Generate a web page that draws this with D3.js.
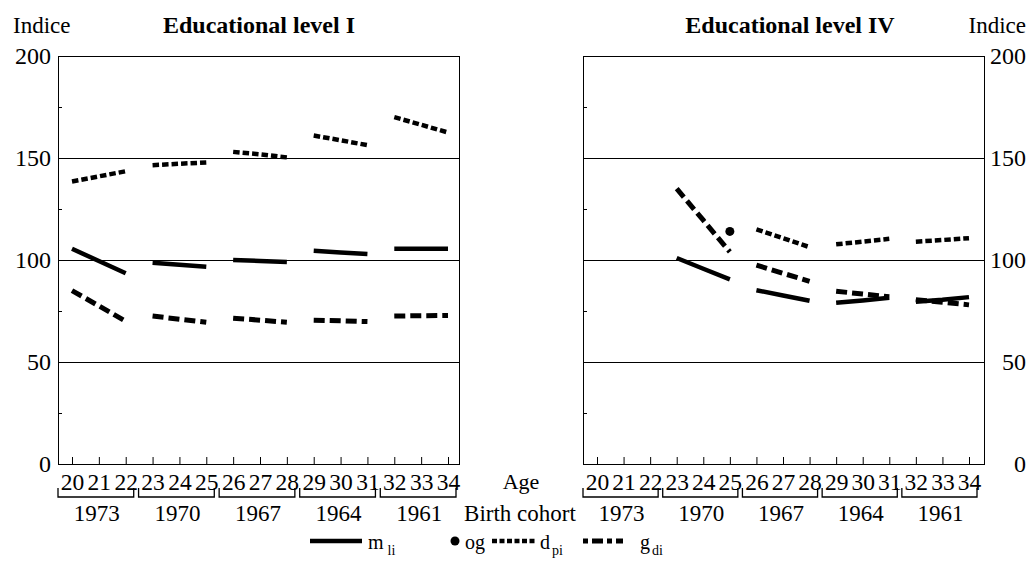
<!doctype html>
<html>
<head>
    <meta charset="utf-8">
    <title>Educational level indices</title>
    <style>
        body { margin: 0; padding: 0; background: #fff; }
        svg text { font-family: "Liberation Serif", "DejaVu Serif", serif; fill: #000; }
    </style>
</head>
<body>
    <svg id="chart" width="1028" height="572"></svg>

    <script src="https://d3js.org/d3.v7.min.js"></script>
    <script>
        // ages on the x axis and the birth cohort each group of three belongs to
        var ages = [20, 21, 22, 23, 24, 25, 26, 27, 28, 29, 30, 31, 32, 33, 34];
        var cohorts = ["1973", "1970", "1967", "1964", "1961"];
        var yTicks = [0, 50, 100, 150, 200];
        var yMinor = [25, 75, 125, 175];
        var gridValues = [50, 100, 150];

        // Educational level I
        var levelI_mli = [105.5, 99.5, 93.5, 98.7, 97.7, 96.7, 100, 99.5, 99, 104.5, 103.7, 103, 105.5, 105.5, 105.5];
        var levelI_dpi = [138.5, 141, 143.5, 146.5, 147.2, 147.8, 153, 151.8, 150.3, 161, 158.7, 156.3, 170, 166.3, 162.5];
        var levelI_gdi = [85, 77.5, 70, 72.5, 71, 69.5, 71.5, 70.5, 69.5, 70.5, 70.2, 69.8, 72.5, 72.7, 72.8];
        var levelI_og = [null, null, null, null, null, null, null, null, null, null, null, null, null, null, null];

        // Educational level IV
        var levelIV_mli = [null, null, null, 101, 95.7, 90.5, 85.2, 82.6, 80, 79, 80.2, 81.5, 79.5, 80.5, 81.8];
        var levelIV_dpi = [null, null, null, null, null, null, 115, 110.7, 106.3, 107.7, 109, 110.4, 109, 109.8, 110.7];
        var levelIV_gdi = [null, null, null, 135, 119.5, 104, 97.5, 93.5, 89.5, 84.7, 83.3, 82, 80.5, 79.3, 78];
        var levelIV_og = [null, null, null, null, null, 114, null, null, null, null, null, null, null, null, null];

        var svg = d3.select("#chart");

        var y = d3.scaleLinear().domain([0, 200]).range([464, 56]);

        var panels = [
            {title: "Educational level I", left: 58, right: 459, x0: 72, x1: 448, titleX: 259, side: "left",
             mli: levelI_mli, dpi: levelI_dpi, gdi: levelI_gdi, og: levelI_og},
            {title: "Educational level IV", left: 583, right: 984, x0: 597, x1: 969, titleX: 790, side: "right",
             mli: levelIV_mli, dpi: levelIV_dpi, gdi: levelIV_gdi, og: levelIV_og}
        ];

        var styles = {
            mli: {width: 4.5, dash: null},
            dpi: {width: 4.5, dash: "6.5,3"},
            gdi: {width: 5, dash: "11,5"}
        };

        panels.forEach(function(p) {
            var x = d3.scaleLinear().domain([20, 34]).range([p.x0, p.x1]);
            var g = svg.append("g");

            // grid lines
            g.selectAll(".grid")
                .data(gridValues)
                .enter().append("line")
                .attr("x1", p.left).attr("x2", p.right)
                .attr("y1", function(d) { return Math.round(y(d)) + 0.5; })
                .attr("y2", function(d) { return Math.round(y(d)) + 0.5; })
                .attr("stroke", "#000").attr("stroke-width", 1)
                .attr("shape-rendering", "crispEdges");

            // frame
            g.append("rect")
                .attr("x", p.left + 0.5).attr("y", y(200) + 0.5)
                .attr("width", p.right - p.left).attr("height", y(0) - y(200))
                .attr("fill", "none").attr("stroke", "#000").attr("stroke-width", 1)
                .attr("shape-rendering", "crispEdges");

            // minor ticks, pointing inward from left border
            g.append("g")
                .attr("transform", "translate(" + p.left + ",0)")
                .call(d3.axisRight(y).tickValues(yMinor).tickSize(4).tickFormat(""))
                .call(function(a) { a.select(".domain").remove(); });

            // age ticks pointing up
            g.append("g")
                .attr("transform", "translate(0," + y(0) + ")")
                .call(d3.axisTop(x).tickValues(ages).tickSize(7).tickFormat(""))
                .call(function(a) { a.select(".domain").remove(); });

            // age labels
            g.append("g")
                .attr("transform", "translate(0," + y(0) + ")")
                .call(d3.axisBottom(x).tickValues(ages).tickSize(0).tickPadding(9).tickFormat(d3.format("d")))
                .call(function(a) {
                    a.select(".domain").remove();
                    a.selectAll("text").style("font-size", "23.5px").attr("font-family", null);
                });

            // y labels
            var yAxis;
            if (p.side === "left") {
                yAxis = g.append("g")
                    .attr("transform", "translate(" + p.left + ",0)")
                    .call(d3.axisLeft(y).tickValues(yTicks).tickSize(0).tickPadding(7));
            } else {
                yAxis = g.append("g")
                    .attr("transform", "translate(" + p.right + ",0)")
                    .call(d3.axisRight(y).tickValues(yTicks).tickSize(0));
                yAxis.selectAll("text").attr("x", 42).attr("text-anchor", "end");
            }
            yAxis.select(".domain").remove();
            yAxis.selectAll("text").style("font-size", "24px").attr("font-family", null);

            // cohort brackets and labels
            cohorts.forEach(function(c, i) {
                var a0 = ages[i * 3], a2 = ages[i * 3 + 2], a1 = ages[i * 3 + 1];
                var bx0 = x(a0) - 14, bx1 = x(a2) + 8;
                g.append("path")
                    .attr("d", "M" + bx0 + ",488 V497 H" + bx1 + " V488")
                    .attr("fill", "none").attr("stroke", "#000").attr("stroke-width", 1.3);
                g.append("text")
                    .attr("x", x(a1) - 2).attr("y", 521)
                    .attr("text-anchor", "middle")
                    .style("font-size", "23px")
                    .text(c);
            });

            // series lines, one segment per cohort
            var line = d3.line()
                .defined(function(d) { return d.v !== null; })
                .x(function(d) { return x(d.age); })
                .y(function(d) { return y(d.v); });

            ["dpi", "gdi", "mli"].forEach(function(key) {
                var vals = p[key];
                cohorts.forEach(function(c, i) {
                    var seg = [0, 1, 2].map(function(k) {
                        return {age: ages[i * 3 + k], v: vals[i * 3 + k]};
                    });
                    if (seg.every(function(d) { return d.v === null; })) return;
                    g.append("path")
                        .attr("d", line(seg))
                        .attr("fill", "none")
                        .attr("stroke", "#000")
                        .attr("stroke-width", styles[key].width)
                        .attr("stroke-dasharray", styles[key].dash);
                });
            });

            g.selectAll(".og")
                .data(ages.map(function(a, i) { return {age: a, v: p.og[i]}; })
                    .filter(function(d) { return d.v !== null; }))
                .enter().append("circle")
                .attr("cx", function(d) { return x(d.age); })
                .attr("cy", function(d) { return y(d.v); })
                .attr("r", 4.5)
                .attr("fill", "#000");

            // title
            g.append("text")
                .attr("x", p.titleX).attr("y", 33)
                .attr("text-anchor", "middle")
                .style("font-size", "24px")
                .style("font-weight", "bold")
                .text(p.title);
        });

        // Indice labels
        svg.append("text").attr("x", 13).attr("y", 33).style("font-size", "23px").text("Indice");
        svg.append("text").attr("x", 1026).attr("y", 33).attr("text-anchor", "end").style("font-size", "23px").text("Indice");

        // Age / Birth cohort captions
        svg.append("text").attr("x", 521).attr("y", 489).attr("text-anchor", "middle").style("font-size", "22px").text("Age");
        svg.append("text").attr("x", 520).attr("y", 521).attr("text-anchor", "middle").style("font-size", "23px").text("Birth cohort");

        // legend
        var legend = svg.append("g");
        var legY = 541;
        legend.append("line").attr("x1", 310).attr("x2", 362).attr("y1", legY).attr("y2", legY)
            .attr("stroke", "#000").attr("stroke-width", styles.mli.width);
        var t1 = legend.append("text").attr("x", 368).attr("y", 549).style("font-size", "20px");
        t1.append("tspan").text("m");
        t1.append("tspan").attr("dx", 4).attr("dy", 6).style("font-size", "14px").text("li");

        legend.append("circle").attr("cx", 455).attr("cy", legY).attr("r", 4.5).attr("fill", "#000");
        legend.append("text").attr("x", 465).attr("y", 549).style("font-size", "20px").text("og");

        legend.append("line").attr("x1", 492).attr("x2", 535).attr("y1", legY).attr("y2", legY)
            .attr("stroke", "#000").attr("stroke-width", styles.dpi.width).attr("stroke-dasharray", "5,2.5");
        var t3 = legend.append("text").attr("x", 540).attr("y", 549).style("font-size", "20px");
        t3.append("tspan").text("d");
        t3.append("tspan").attr("dx", 2).attr("dy", 6).style("font-size", "14px").text("pi");

        legend.append("line").attr("x1", 583).attr("x2", 623).attr("y1", legY).attr("y2", legY)
            .attr("stroke", "#000").attr("stroke-width", styles.gdi.width).attr("stroke-dasharray", "5,4,11,4");
        var t4 = legend.append("text").attr("x", 640).attr("y", 549).style("font-size", "20px");
        t4.append("tspan").text("g");
        t4.append("tspan").attr("dx", 2).attr("dy", 6).style("font-size", "14px").text("di");
    </script>
</body>
</html>
